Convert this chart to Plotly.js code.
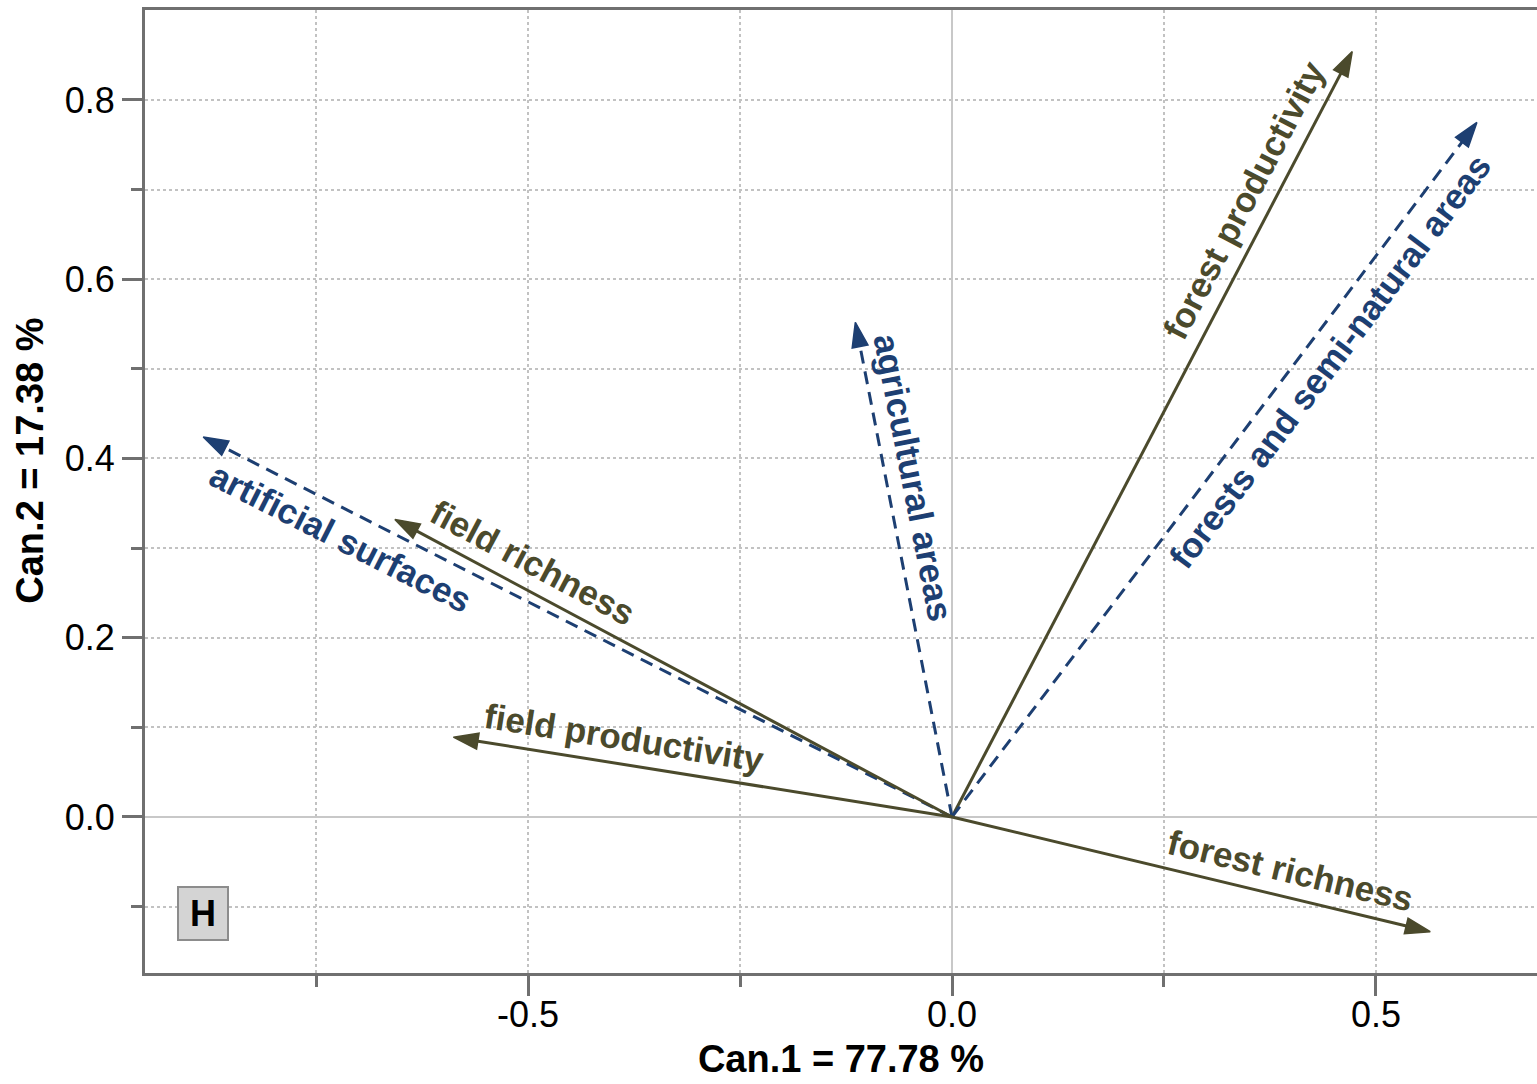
<!DOCTYPE html>
<html><head><meta charset="utf-8">
<script src="https://cdn.plot.ly/plotly-3.0.1.min.js"></script>
<style>html,body{margin:0;padding:0;background:#fff;overflow:hidden}#chart{width:1537px;height:1084px}</style>
</head><body><div id="chart"></div>
<script>
// ---- data ----
const variables = ['forest productivity', 'forests and semi-natural areas', 'agricultural areas',
                   'artificial surfaces', 'field richness', 'field productivity', 'forest richness'];
const can1 = [0.472, 0.619, -0.114, -0.883, -0.657, -0.588, 0.564];
const can2 = [0.854, 0.775, 0.552, 0.424, 0.332, 0.089, -0.128];
const varType = ['biodiversity', 'land cover', 'land cover', 'land cover', 'biodiversity', 'biodiversity', 'biodiversity'];
const xTickVals = [-0.5, 0.0, 0.5];
const xTickText = ['-0.5', '0.0', '0.5'];
const yTickVals = [0.0, 0.2, 0.4, 0.6, 0.8];
const yTickText = ['0.0', '0.2', '0.4', '0.6', '0.8'];
const xMinorVals = [-0.75, -0.25, 0.25];
const yMinorVals = [-0.1, 0.1, 0.3, 0.5, 0.7];
const xTitle = 'Can.1 = 77.78 %';
const yTitle = 'Can.2 = 17.38 %';
const panelLabel = 'H';

// ---- style ----
const W = 1537, H = 1084;
const M = {l: 145, r: 0, t: 10, b: 111};
const xRange = [-0.9517, 0.6899];
const yRange = [-0.1741, 0.9004];
const FONT = 'Liberation Sans, Arial, Helvetica, sans-serif';
const typeStyle = {
  'biodiversity': {color: '#4b4a2c', dash: 'solid'},
  'land cover': {color: '#1d3f72', dash: '13px,8px'}
};
// label placement: fraction along the arrow, side of the arrow (+1 above text baseline, -1 below)
const labelT = [0.79, 0.68, 0.675, 0.80, 0.775, 0.665, 0.695];
const labelSide = [1, -1, 1, -1, 1, 1, 1];
const labelOff = 27;

const pxX = (W - M.l - M.r) / (xRange[1] - xRange[0]);
const pxY = (H - M.t - M.b) / (yRange[1] - yRange[0]);

const traces = variables.map((v, i) => {
  const st = typeStyle[varType[i]];
  return {
    x: [0, can1[i]], y: [0, can2[i]], mode: 'lines+markers', name: v,
    line: {color: st.color, width: 3, dash: st.dash},
    marker: {symbol: 'arrow', angleref: 'previous', size: [0, 26], color: st.color, opacity: 1,
             line: {color: st.color, width: 1.5}},
    hoverinfo: 'skip', showlegend: false
  };
});

const annotations = variables.map((v, i) => {
  const st = typeStyle[varType[i]];
  const dx = can1[i] * pxX, dy = -can2[i] * pxY;
  let a = Math.atan2(dy, dx) * 180 / Math.PI;
  if (a > 90) a -= 180;
  if (a <= -90) a += 180;
  const r = a * Math.PI / 180;
  const nx = Math.sin(r), ny = -Math.cos(r);
  const off = labelOff * labelSide[i];
  return {
    x: labelT[i] * can1[i], y: labelT[i] * can2[i], xref: 'x', yref: 'y',
    text: '<b>' + v + '</b>', showarrow: false, textangle: a,
    xanchor: 'center', yanchor: 'middle',
    xshift: off * nx, yshift: -off * ny,
    font: {family: FONT, size: 35, color: st.color}
  };
});

annotations.push({
  xref: 'paper', yref: 'paper', x: 0.0417, y: 0.0613, xanchor: 'center', yanchor: 'middle',
  text: '<b>' + panelLabel + '</b>', showarrow: false, width: 46, height: 49,
  font: {family: FONT, size: 36, color: '#000'},
  bgcolor: '#d4d4d4', bordercolor: '#8c8c8c', borderwidth: 2, borderpad: 1
});
annotations.push({
  xref: 'paper', yref: 'paper', x: -0.0826, y: 0.532, xanchor: 'center', yanchor: 'middle',
  text: '<b>' + yTitle + '</b>', showarrow: false, textangle: -90,
  font: {family: FONT, size: 38, color: '#000'}
});

const gridStyle = {showgrid: true, gridcolor: '#c2c2c2', griddash: 'dot', gridwidth: 2};
const axisCommon = {
  showline: true, linecolor: '#707070', linewidth: 3,
  ticks: 'outside', ticklen: 20, tickwidth: 3, tickcolor: '#707070',
  tickfont: {family: FONT, size: 36, color: '#000'},
  zeroline: true, zerolinecolor: '#c8c8c8', zerolinewidth: 2.5,
  tickmode: 'array', fixedrange: true,
  ...gridStyle
};

const layout = {
  width: W, height: H, margin: M,
  paper_bgcolor: '#fff', plot_bgcolor: '#fff',
  xaxis: {
    ...axisCommon, range: xRange, tickvals: xTickVals, ticktext: xTickText, mirror: true,
    ticklabelstandoff: -12,
    minor: {tickmode: 'array', tickvals: xMinorVals, ticks: 'outside', ticklen: 11, tickwidth: 3, tickcolor: '#707070', ...gridStyle},
    title: {text: '<b>' + xTitle + '</b>', font: {family: FONT, size: 38, color: '#000'}, standoff: 12}
  },
  yaxis: {
    ...axisCommon, range: yRange, tickvals: yTickVals, ticktext: yTickText,
    minor: {tickmode: 'array', tickvals: yMinorVals, ticks: 'outside', ticklen: 11, tickwidth: 3, tickcolor: '#707070', ...gridStyle}
  },
  annotations: annotations
};

Plotly.newPlot('chart', traces, layout, {displayModeBar: false, staticPlot: true});
</script>
</body></html>
